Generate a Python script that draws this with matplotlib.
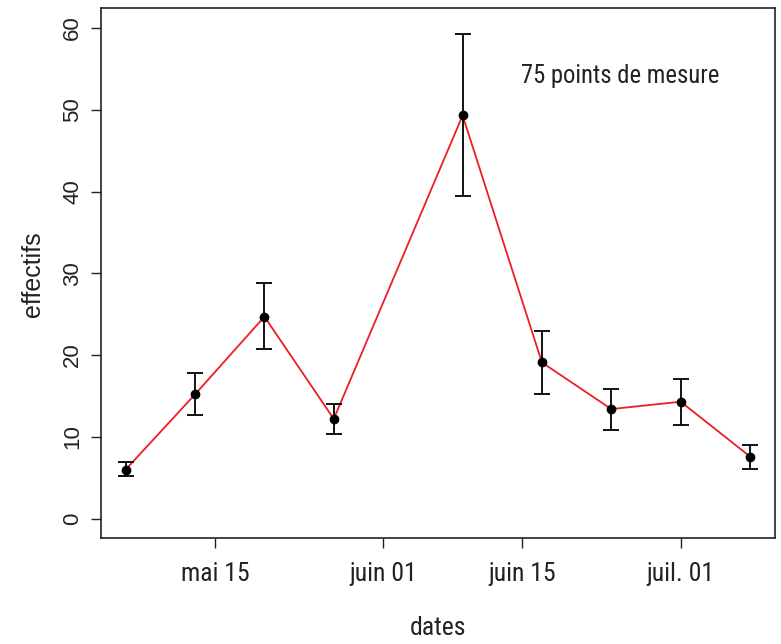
import matplotlib
matplotlib.use("Agg")
import matplotlib.pyplot as plt
import matplotlib.dates as mdates
import numpy as np
from datetime import datetime

plt.rcParams['font.family'] = ['Roboto Condensed', 'Liberation Sans', 'DejaVu Sans']
YFONT = ['Liberation Sans', 'DejaVu Sans']

# Data
dates = ["2013-05-06", "2013-05-13", "2013-05-20", "2013-05-27", "2013-06-09",
         "2013-06-17", "2013-06-24", "2013-07-01", "2013-07-08"]
effectifs = [6.0, 15.2, 24.7, 12.2, 49.3, 19.1, 13.4, 14.3, 7.6]
lower = [5.2, 12.7, 20.7, 10.4, 39.4, 15.2, 10.8, 11.5, 6.1]
upper = [6.9, 17.8, 28.8, 14.0, 59.3, 23.0, 15.9, 17.1, 9.0]
tick_dates = ["2013-05-15", "2013-06-01", "2013-06-15", "2013-07-01"]
tick_labels = ["mai 15", "juin 01", "juin 15", "juil. 01"]
y_ticks = [0, 10, 20, 30, 40, 50, 60]
annotation = "75 points de mesure"

x = mdates.date2num([datetime.strptime(d, "%Y-%m-%d") for d in dates])
y = np.array(effectifs)
lo = y - np.array(lower)
hi = np.array(upper) - y

W, H = 781, 644
fig = plt.figure(figsize=(W/100, H/100), dpi=100)
L, R, T, B = 100.7, 775, 8.3, 538.3
ax = fig.add_axes([L/W, 1-B/H, (R-L)/W, (B-T)/H])

ax.plot(x, y, color='#ee1c25', lw=1.3, zorder=2)
ax.errorbar(x, y, yerr=[lo, hi], fmt='none', ecolor='black', elinewidth=1.3,
            capsize=6, capthick=1.3, zorder=3)
ax.plot(x, y, 'o', color='black', ms=6, zorder=4)

xr = x.max() - x.min()
ax.set_xlim(x.min() - 0.04*xr, x.max() + 0.04*xr)
ax.set_ylim(-2.4, 62.4)

fs = 18.5
tx = mdates.date2num([datetime.strptime(d, "%Y-%m-%d") for d in tick_dates])
ax.set_xticks(tx)
ax.set_xticklabels(tick_labels, fontsize=fs, color='#222222')
ax.set_yticks(y_ticks)
ax.set_yticklabels([str(v) for v in y_ticks], fontsize=16, rotation=90, va='center',
                   color='#222222', family=YFONT)

ax.tick_params(axis='both', direction='out', length=7, width=1, color='#222222')
ax.tick_params(axis='x', pad=10)
ax.tick_params(axis='y', pad=5.5)
for s in ax.spines.values():
    s.set_color('#222222')
    s.set_linewidth(1.2)

ax.set_xlabel("dates", fontsize=fs, labelpad=22, color='#222222')
fig.text(33/W, 1-274/H, "effectifs", fontsize=18, rotation=90, ha='center',
         va='center', color='#222222', family=YFONT)

ax.text(0.771, 0.872, annotation, transform=ax.transAxes, fontsize=17.7,
        ha='center', va='center', color='#222222')

fig.savefig("out.png", dpi=100)
